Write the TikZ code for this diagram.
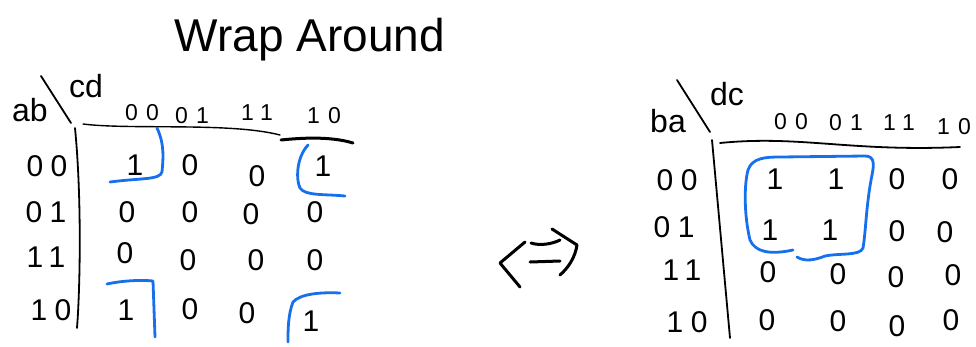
\documentclass[tikz,border=0pt]{standalone}
\usepackage{fontspec}
\setmainfont{Liberation Sans}
\definecolor{penblue}{RGB}{22,112,238}
\begin{document}
\begin{tikzpicture}[x=1pt,y=-1pt,
  ink/.style={line width=1.8pt,line cap=round,line join=round},
  thick ink/.style={line width=3pt,line cap=round,line join=round},
  loop/.style={draw=penblue,line width=2.8pt,line cap=round,line join=round},
  title/.style={font=\fontsize{46}{48}\selectfont},
  var/.style={font=\fontsize{32}{34}\selectfont},
  hdr/.style={font=\fontsize{23}{24}\selectfont\addfontfeature{LetterSpace=35}},
  lbl/.style={font=\fontsize{30}{31}\selectfont\addfontfeature{LetterSpace=25}},
  cell/.style={font=\fontsize{30}{32}\selectfont}]
\useasboundingbox (0,0) rectangle (976,346);

\node[title] (title) at (310,40) {Wrap Around};

% ---------- left map ----------
\node[var] (ab) at (30,110) {ab};
\node[var] (cd) at (86,86) {cd};
\coordinate (ls1) at (41,76); \coordinate (ls2) at (71,123);
\draw[ink] (ls1) -- (ls2);
\node[hdr] (lh1) at (142,113) {00};
\node[hdr] (lh2) at (192,116) {01};
\node[hdr] (lh3) at (257,113) {11};
\node[hdr] (lh4) at (324,116) {10};
\coordinate (lt1) at (83,124); \coordinate (lt2) at (280,135);
\coordinate (lt3) at (281,140); \coordinate (lt4) at (353,143);
\draw[ink,line width=1.4pt] (lt1) .. controls (130,130) and (230,122) .. (lt2);
\draw[thick ink] (lt3) .. controls (300,138) and (330,136) .. (lt4);
\coordinate (lv1) at (75,128); \coordinate (lv2) at (77,328);
\draw[ink] (lv1) .. controls (82,200) and (80,290) .. (lv2);
\node[lbl] (lr1) at (47,166) {00};
\node[lbl] (lr2) at (46,212) {01};
\node[lbl] (lr3) at (46,257) {11};
\node[lbl] (lr4) at (51,310) {10};

\node[cell] (l11) at (135,165) {1};
\node[cell] (l12) at (190,165) {0};
\node[cell] (l13) at (257,176) {0};
\node[cell] (l14) at (323,166) {1};
\node[cell] (l21) at (127,212) {0};
\node[cell] (l22) at (190,212) {0};
\node[cell] (l23) at (251,214) {0};
\node[cell] (l24) at (315,212) {0};
\node[cell] (l31) at (125,253) {0};
\node[cell] (l32) at (188,260) {0};
\node[cell] (l33) at (256,260) {0};
\node[cell] (l34) at (315,260) {0};
\node[cell] (l41) at (126,310) {1};
\node[cell] (l42) at (190,309) {0};
\node[cell] (l43) at (247,313) {0};
\node[cell] (l44) at (311,321) {1};

\coordinate (b1a) at (157,128); \coordinate (b1b) at (110,182);
\draw[loop] (b1a) .. controls (165,145) and (163,160) .. (162,172)
  .. controls (160,180) and (140,178) .. (b1b);
\coordinate (b2a) at (308,145); \coordinate (b2b) at (345,196);
\draw[loop] (b2a) .. controls (296,158) and (296,180) .. (300,188)
  .. controls (305,196) and (325,194) .. (b2b);
\coordinate (b3a) at (107,284); \coordinate (b3b) at (155,337);
\draw[loop] (b3a) .. controls (125,280) and (145,280) .. (153,281)
  -- (b3b);
\coordinate (b4a) at (340,293); \coordinate (b4b) at (288,342);
\draw[loop] (b4a) .. controls (320,292) and (300,294) .. (293,302)
  .. controls (288,315) and (288,330) .. (b4b);

% ---------- equivalence sign ----------
\coordinate (e1) at (525,242); \coordinate (e2) at (500,263); \coordinate (e3) at (520,287);
\draw[thick ink] (e1) -- (e2) -- (e3);
\coordinate (e4) at (531,243); \coordinate (e5) at (560,240);
\draw[thick ink] (e4) .. controls (540,246) and (552,244) .. (e5);
\coordinate (e6) at (530,262); \coordinate (e7) at (560,261);
\draw[thick ink] (e6) -- (e7);
\coordinate (e8) at (552,229); \coordinate (e9) at (577,245); \coordinate (e10) at (560,275);
\draw[thick ink] (e8) -- (e9) .. controls (575,258) and (568,268) .. (e10);

% ---------- right map ----------
\node[var] (ba) at (668,121) {ba};
\node[var] (dc) at (727,94) {dc};
\coordinate (rs1) at (677,80); \coordinate (rs2) at (710,132);
\draw[ink] (rs1) -- (rs2);
\node[hdr] (rh1) at (791,122) {00};
\node[hdr] (rh2) at (846,123) {01};
\node[hdr] (rh3) at (899,123) {11};
\node[hdr] (rh4) at (954,127) {10};
\coordinate (rt1) at (720,143); \coordinate (rt2) at (960,147);
\draw[ink] (rt1) .. controls (800,135) and (850,152) .. (rt2);
\coordinate (rv1) at (712,140); \coordinate (rv2) at (730,338);
\draw[ink] (rv1) -- (rv2);
\node[lbl] (rr1) at (677,180) {00};
\node[lbl] (rr2) at (674,227) {01};
\node[lbl] (rr3) at (682,270) {11};
\node[lbl] (rr4) at (687,322) {10};

\node[cell] (r11) at (775,179) {1};
\node[cell] (r12) at (836,179) {1};
\node[cell] (r13) at (897,179) {0};
\node[cell] (r14) at (950,179) {0};
\node[cell] (r21) at (770,230) {1};
\node[cell] (r22) at (830,230) {1};
\node[cell] (r23) at (897,231) {0};
\node[cell] (r24) at (945,232) {0};
\node[cell] (r31) at (768,272) {0};
\node[cell] (r32) at (838,274) {0};
\node[cell] (r33) at (896,277) {0};
\node[cell] (r34) at (953,275) {0};
\node[cell] (r41) at (767,320) {0};
\node[cell] (r42) at (838,321) {0};
\node[cell] (r43) at (897,326) {0};
\node[cell] (r44) at (951,320) {0};

\coordinate (bx1) at (793,250); \coordinate (bx2) at (797,257);
\draw[loop] (bx1) .. controls (770,255) and (755,252) .. (750,240)
  .. controls (744,215) and (744,185) .. (748,170)
  .. controls (752,158) and (765,157) .. (780,157)
  -- (865,156) .. controls (875,156) and (874,165) .. (872,175)
  .. controls (866,205) and (866,230) .. (863,248)
  .. controls (860,256) and (840,253) .. (825,256)
  .. controls (815,260) and (805,262) .. (bx2);
\end{tikzpicture}
\end{document}
